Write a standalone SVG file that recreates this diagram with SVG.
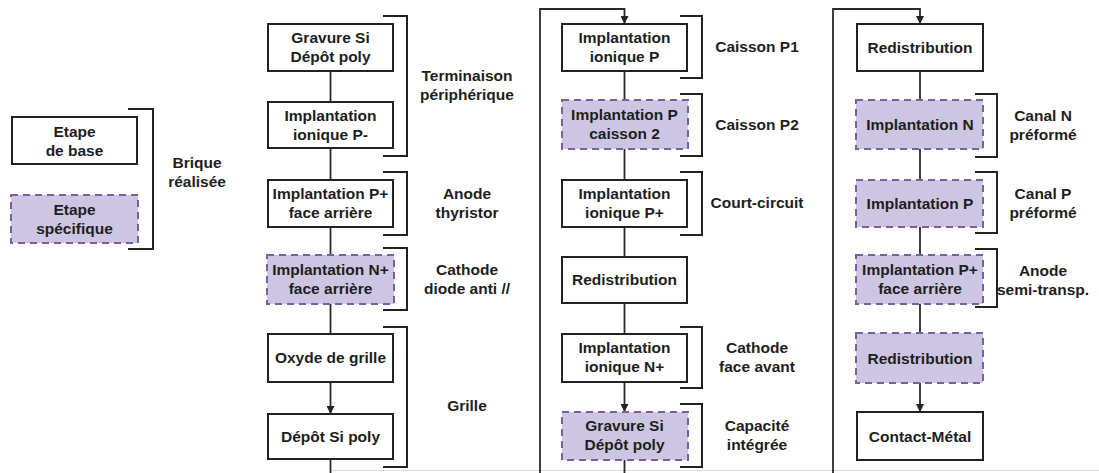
<svg xmlns="http://www.w3.org/2000/svg" width="1099" height="473" viewBox="0 0 1099 473">
<defs>
<marker id="arr" viewBox="0 0 10 10" refX="10" refY="5" markerWidth="8" markerHeight="8" markerUnits="userSpaceOnUse" orient="auto">
<path d="M0,0 L10,5 L0,10 z" fill="#222"/>
</marker>
</defs>
<style>
text{font-family:"Liberation Sans",Arial,sans-serif;font-weight:bold;font-size:15.5px;fill:#1e1e1e;text-anchor:middle}
.base{fill:#fff;stroke:#222;stroke-width:2}
.spec{fill:#cdc6e2;stroke:#7b5ea3;stroke-width:2;stroke-dasharray:7,5}
.br{fill:none;stroke:#222;stroke-width:2}
.cn{fill:none;stroke:#2a2a2a;stroke-width:1.8}
</style>
<rect width="1099" height="473" fill="#fff"/>
<line x1="332" y1="470.5" x2="1099" y2="470.5" stroke="#dcdcdc" stroke-width="1"/>

<g id="connectors">
<line class="cn" x1="330.5" y1="71" x2="330.5" y2="102"/>
<line class="cn" x1="330.5" y1="148" x2="330.5" y2="180"/>
<line class="cn" x1="330.5" y1="227" x2="330.5" y2="255"/>
<line class="cn" x1="330.5" y1="304" x2="330.5" y2="334"/>
<line class="cn" x1="330.5" y1="382" x2="330.5" y2="414" marker-end="url(#arr)"/>
<line class="cn" x1="330.5" y1="459" x2="330.5" y2="473"/>
<polyline class="cn" points="540,473 540,9 624.5,9 624.5,24" marker-end="url(#arr)"/>
<line class="cn" x1="624.5" y1="71" x2="624.5" y2="100"/>
<line class="cn" x1="624.5" y1="149" x2="624.5" y2="180"/>
<line class="cn" x1="624.5" y1="227" x2="624.5" y2="257"/>
<line class="cn" x1="624.5" y1="303" x2="624.5" y2="334"/>
<line class="cn" x1="624.5" y1="382" x2="624.5" y2="412" marker-end="url(#arr)"/>
<line class="cn" x1="624.5" y1="460" x2="624.5" y2="473"/>
<polyline class="cn" points="833,473 833,9 920,9 920,24" marker-end="url(#arr)"/>
<line class="cn" x1="920" y1="71" x2="920" y2="100"/>
<line class="cn" x1="920" y1="149" x2="920" y2="180"/>
<line class="cn" x1="920" y1="227" x2="920" y2="255"/>
<line class="cn" x1="920" y1="304" x2="920" y2="333"/>
<line class="cn" x1="920" y1="383" x2="920" y2="412" marker-end="url(#arr)"/>
</g>

<g id="legend-base"><rect class="base" x="12" y="117" width="125" height="47"/><text x="74.5" y="137">Etape</text><text x="74.5" y="156">de base</text></g>
<g id="legend-spec"><rect class="spec" x="11" y="195" width="127" height="48"/><text x="74.5" y="215">Etape</text><text x="74.5" y="234">spécifique</text></g>
<g id="legend-bracket"><polyline class="br" points="128,109 153,109 153,249 128,249"/><text x="197" y="168">Brique</text><text x="197" y="187">réalisée</text></g>

<g id="c1n1"><rect class="base" x="268" y="24" width="125" height="47"/><text x="330.5" y="43">Gravure Si</text><text x="330.5" y="62">Dépôt poly</text></g>
<g id="c1n2"><rect class="base" x="268" y="102" width="125" height="46"/><text x="330.5" y="121">Implantation</text><text x="330.5" y="140">ionique P-</text></g>
<g id="c1n3"><rect class="base" x="268" y="180" width="125" height="47"/><text x="330.5" y="199">Implantation P+</text><text x="330.5" y="218">face arrière</text></g>
<g id="c1n4"><rect class="spec" x="267" y="255" width="127" height="49"/><text x="330.5" y="275">Implantation N+</text><text x="330.5" y="294">face arrière</text></g>
<g id="c1n5"><rect class="base" x="268" y="334" width="125" height="48"/><text x="330.5" y="363">Oxyde de grille</text></g>
<g id="c1n6"><rect class="base" x="268" y="414" width="125" height="45"/><text x="330.5" y="442">Dépôt Si poly</text></g>

<g id="c1b1"><polyline class="br" points="383,16 407,16 407,156 383,156"/><text x="467" y="81">Terminaison</text><text x="467" y="100">périphérique</text></g>
<g id="c1b2"><polyline class="br" points="383,172 407,172 407,235 383,235"/><text x="467" y="199">Anode</text><text x="467" y="218">thyristor</text></g>
<g id="c1b3"><polyline class="br" points="383,248 407,248 407,310 383,310"/><text x="467" y="275">Cathode</text><text x="467" y="294">diode anti //</text></g>
<g id="c1b4"><polyline class="br" points="383,327 407,327 407,467 383,467"/><text x="467" y="411">Grille</text></g>

<g id="c2n1"><rect class="base" x="562" y="24" width="125" height="47"/><text x="624.5" y="43">Implantation</text><text x="624.5" y="62">ionique P</text></g>
<g id="c2n2"><rect class="spec" x="562" y="100" width="126" height="49"/><text x="624.5" y="120">Implantation P</text><text x="624.5" y="139">caisson 2</text></g>
<g id="c2n3"><rect class="base" x="562" y="180" width="125" height="47"/><text x="624.5" y="199">Implantation</text><text x="624.5" y="218">ionique P+</text></g>
<g id="c2n4"><rect class="base" x="562" y="257" width="125" height="46"/><text x="624.5" y="285">Redistribution</text></g>
<g id="c2n5"><rect class="base" x="562" y="334" width="125" height="48"/><text x="624.5" y="353">Implantation</text><text x="624.5" y="372">ionique N+</text></g>
<g id="c2n6"><rect class="spec" x="562" y="412" width="126" height="48"/><text x="624.5" y="431">Gravure Si</text><text x="624.5" y="450">Dépôt poly</text></g>

<g id="c2b1"><polyline class="br" points="680,16 702,16 702,78 680,78"/><text x="757" y="52">Caisson P1</text></g>
<g id="c2b2"><polyline class="br" points="680,94 702,94 702,156 680,156"/><text x="757" y="130">Caisson P2</text></g>
<g id="c2b3"><polyline class="br" points="680,172 702,172 702,235 680,235"/><text x="757" y="208">Court-circuit</text></g>
<g id="c2b4"><polyline class="br" points="680,327 702,327 702,388 680,388"/><text x="757" y="353">Cathode</text><text x="757" y="372">face avant</text></g>
<g id="c2b5"><polyline class="br" points="680,404 702,404 702,467 680,467"/><text x="757" y="431">Capacité</text><text x="757" y="450">intégrée</text></g>

<g id="c3n1"><rect class="base" x="857" y="24" width="126" height="47"/><text x="920" y="53">Redistribution</text></g>
<g id="c3n2"><rect class="spec" x="856" y="100" width="127" height="49"/><text x="920" y="130">Implantation N</text></g>
<g id="c3n3"><rect class="spec" x="856" y="180" width="127" height="47"/><text x="920" y="209">Implantation P</text></g>
<g id="c3n4"><rect class="spec" x="856" y="255" width="127" height="49"/><text x="920" y="275">Implantation P+</text><text x="920" y="294">face arrière</text></g>
<g id="c3n5"><rect class="spec" x="856" y="333" width="127" height="50"/><text x="920" y="364">Redistribution</text></g>
<g id="c3n6"><rect class="base" x="857" y="412" width="126" height="48"/><text x="920" y="442">Contact-Métal</text></g>

<g id="c3b1"><polyline class="br" points="975,94 997,94 997,157 975,157"/><text x="1043" y="121">Canal N</text><text x="1043" y="140">préformé</text></g>
<g id="c3b2"><polyline class="br" points="975,172 997,172 997,233 975,233"/><text x="1043" y="199">Canal P</text><text x="1043" y="218">préformé</text></g>
<g id="c3b3"><polyline class="br" points="975,249 997,249 997,307 975,307"/><text x="1043" y="276">Anode</text><text x="1043" y="295">semi-transp.</text></g>
</svg>
